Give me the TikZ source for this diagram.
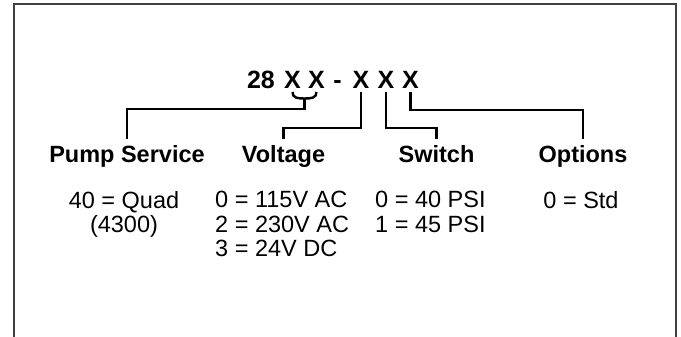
\documentclass[tikz,border=0pt]{standalone}
\usepackage{fontspec}
\setmainfont{Liberation Sans}
\usepackage{tikz}
\usetikzlibrary{positioning,calc}

\tikzset{
  code/.style={font=\fontsize{25}{30}\selectfont\bfseries, inner sep=0pt, outer sep=3pt, anchor=base},
  field/.style={font=\fontsize{23.5}{28}\selectfont\bfseries, inner sep=0pt, outer sep=6pt, anchor=base},
  values/.style={font=\fontsize{23.5}{24.5}\selectfont, inner sep=0pt},
  link/.style={line width=2.4pt, line join=miter},
  frame/.style={line width=1.8pt, black!75},
}

\begin{document}
\begin{tikzpicture}[x=1pt, y=-1pt]
    \useasboundingbox (0,0) rectangle (681,337);

    % Outer frame (open at the bottom)
    \draw[frame] (14,337) |- (676,4) -- (676,337);

    % Part number
    \node[code] (num) at (261,89) {28};
    \node[code] (x1) at (292.5,89) {X};
    \node[code] (x2) at (316.5,89) {X};
    \node[code] (dash) at (337.5,89) {-};
    \node[code] (x3) at (361,89) {X};
    \node[code] (x4) at (386,89) {X};
    \node[code] (x5) at (410.5,89) {X};

    % Field names
    \node[field] (pump) at (127,162) {Pump Service};
    \node[field] (volt) at (283.5,162) {Voltage};
    \node[field] (switch) at (436.5,162) {Switch};
    \node[field] (opts) at (583,162) {Options};

    % Field values
    \node[values, anchor=north, align=center] (pumpval) at (124,191) {40 = Quad\\(4300)};
    \node[values, anchor=north west, align=left] (voltval) at (215,191) {0 = 115V AC\\2 = 230V AC\\3 = 24V DC};
    \node[values, anchor=north west, align=left] (switchval) at (375,191) {0 = 40 PSI\\1 = 45 PSI};
    \node[values, anchor=north] (optsval) at (581,191) {0 = Std};

    % Connectors
    \coordinate (brace) at (304.5,98.5);
    \draw[link] (x1.south) .. controls +(0,6) and +(-7,0) .. (brace)
                .. controls +(7,0) and +(0,6) .. (x2.south);
    \draw[link] (brace) -- ++(0,10.5) -| (pump.north);
    \draw[link] (x3.south) -- ++(0,36) -| (volt.north);
    \draw[link] (x4.south) -- ++(0,36) -| (switch.north);
    \draw[link] (x5.south) -- ++(0,18) -| (opts.north);
\end{tikzpicture}
\end{document}
